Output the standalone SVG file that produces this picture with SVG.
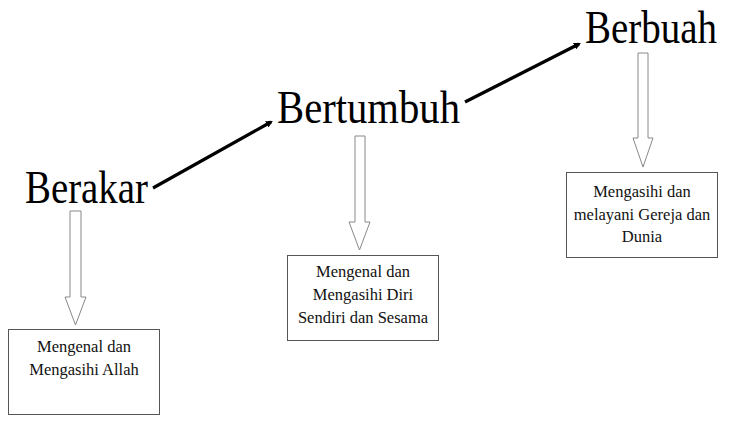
<svg xmlns="http://www.w3.org/2000/svg" width="730" height="427" viewBox="0 0 730 427">
<defs>
<style>
.title{font-family:"Liberation Serif","Times New Roman",serif;font-size:39px;fill:#000}
.lbl{font-family:"Liberation Serif","Times New Roman",serif;font-size:16.5px;fill:#111;text-anchor:middle}
.box{fill:#fff;stroke:#555;stroke-width:1}
.barrow{fill:#fff;stroke:#888;stroke-width:1}
.conn{stroke:#000;stroke-width:3.2;fill:none}
</style>
<marker id="ah" viewBox="0 0 10 10" refX="7" refY="5" markerWidth="2.2" markerHeight="2.2" orient="auto" markerUnits="strokeWidth">
<path d="M0,0 L10,5 L0,10 z" fill="#000"/>
</marker>
</defs>
<rect width="730" height="427" fill="#fff"/>
<g id="connectors">
<line class="conn" x1="153" y1="188" x2="271" y2="122" marker-end="url(#ah)"/>
<line class="conn" x1="465" y1="102" x2="579" y2="44" marker-end="url(#ah)"/>
</g>
<g id="berakar">
<text class="title" transform="translate(25,203) scale(1,1.17)" textLength="123" lengthAdjust="spacingAndGlyphs">Berakar</text>
<path class="barrow" d="M70,211 H81 V297 H86 L75.5,325 L65,297 H70 Z"/>
<rect class="box" x="8.5" y="329.5" width="151" height="85"/>
<text class="lbl" x="84" y="352">Mengenal dan</text>
<text class="lbl" x="84" y="375">Mengasihi Allah</text>
</g>
<g id="bertumbuh">
<text class="title" transform="translate(277,123) scale(1,1.17)" textLength="183" lengthAdjust="spacingAndGlyphs">Bertumbuh</text>
<path class="barrow" d="M355,136 H365 V222 H370 L359.5,250 L349,222 H355 Z"/>
<rect class="box" x="287.5" y="255.5" width="151" height="85"/>
<text class="lbl" x="363" y="277">Mengenal dan</text>
<text class="lbl" x="363" y="300">Mengasihi Diri</text>
<text class="lbl" x="363" y="323">Sendiri dan Sesama</text>
</g>
<g id="berbuah">
<text class="title" transform="translate(585,43) scale(1,1.17)" textLength="132" lengthAdjust="spacingAndGlyphs">Berbuah</text>
<path class="barrow" d="M638,53 H648 V138 H653 L643,167 L633,138 H638 Z"/>
<rect class="box" x="566.5" y="172.5" width="151" height="85"/>
<text class="lbl" x="642" y="197">Mengasihi dan</text>
<text class="lbl" x="642" y="220">melayani Gereja dan</text>
<text class="lbl" x="642" y="242">Dunia</text>
</g>
</svg>
